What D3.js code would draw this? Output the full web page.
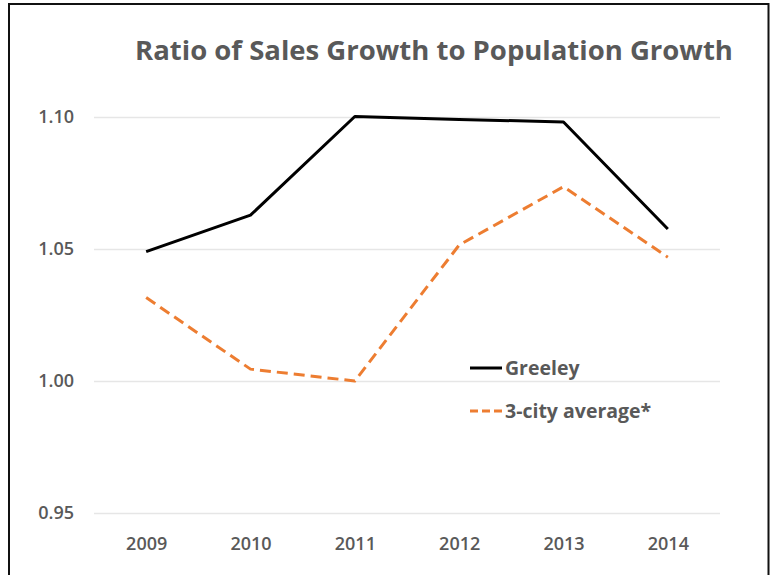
<!DOCTYPE html>
<html>
<head>
<meta charset="utf-8">
<script src="https://cdn.jsdelivr.net/npm/d3@7"></script>
<style>
  html, body { margin: 0; padding: 0; background: #fff; }
  svg { display: block; }
  text { font-family: "Open Sans", "Noto Sans", sans-serif; }
</style>
</head>
<body>
<svg id="chart" width="772" height="575"></svg>
<script>
// ---- data ----
const years = ["2009", "2010", "2011", "2012", "2013", "2014"];
const greeley = [1.049, 1.0628, 1.1002, 1.0991, 1.0981, 1.0576];
const cityAvg = [1.0316, 1.0045, 1.0000, 1.0515, 1.0736, 1.0469];
const yTicks = [0.95, 1.00, 1.05, 1.10];
const seriesNames = ["Greeley", "3-city average*"];
const titleText = "Ratio of Sales Growth to Population Growth";

const svg = d3.select("#chart");
const W = 772, H = 575;
const plot = { left: 94, right: 720, top: 117, bottom: 513 };
const gray = "#595959";

// frame
svg.append("path")
  .attr("d", `M9,${H + 5} L9,4 L768.5,4 L768.5,${H + 5}`)
  .attr("fill", "none").attr("stroke", "#111").attr("stroke-width", 2);

const x = d3.scalePoint().domain(years).range([plot.left, plot.right]).padding(0.5);
const y = d3.scaleLinear().domain([0.95, 1.10]).range([plot.bottom, plot.top]);

// gridlines
const yAxis = d3.axisLeft(y).tickValues(yTicks).tickFormat(d3.format(".2f"))
  .tickSize(-(plot.right - plot.left)).tickPadding(20);
const gy = svg.append("g").attr("transform", `translate(${plot.left},0)`).call(yAxis);
gy.select(".domain").remove();
gy.selectAll(".tick line").attr("stroke", "#e6e6e6").attr("stroke-width", 1.5);
gy.selectAll(".tick text").attr("fill", gray).attr("font-size", 18).attr("font-weight", 600)
  .attr("font-family", "'Open Sans', sans-serif");

// x axis labels
const xAxis = d3.axisBottom(x).tickSize(0).tickPadding(24);
const gx = svg.append("g").attr("transform", `translate(0,${plot.bottom})`).call(xAxis);
gx.select(".domain").remove();
gx.selectAll(".tick text").attr("fill", gray).attr("font-size", 18).attr("font-weight", 600)
  .attr("font-family", "'Open Sans', sans-serif");

// lines
const line = d3.line().x((d, i) => x(years[i])).y(d => y(d));
svg.append("path").datum(cityAvg).attr("d", line)
  .attr("fill", "none").attr("stroke", "#ED7D31").attr("stroke-width", 3)
  .attr("stroke-dasharray", "11,6").attr("stroke-linejoin", "round");
svg.append("path").datum(greeley).attr("d", line)
  .attr("fill", "none").attr("stroke", "#000").attr("stroke-width", 3)
  .attr("stroke-linejoin", "round");

// title
svg.append("text").attr("x", 434).attr("y", 60).attr("text-anchor", "middle")
  .attr("fill", gray).attr("font-size", 27.5).attr("font-weight", 700)
  .text(titleText);

// legend
const legend = [
  { name: seriesNames[0], color: "#000", dash: null, y: 368 },
  { name: seriesNames[1], color: "#ED7D31", dash: "8,4", y: 411 }
];
legend.forEach(l => {
  svg.append("line").attr("x1", 470).attr("x2", 502).attr("y1", l.y).attr("y2", l.y)
    .attr("stroke", l.color).attr("stroke-width", 3)
    .attr("stroke-dasharray", l.dash);
  svg.append("text").attr("x", 505).attr("y", l.y).attr("dy", "0.35em")
    .attr("fill", gray).attr("font-size", 19.5).attr("font-weight", 700)
    .text(l.name);
});
</script>
</body>
</html>
